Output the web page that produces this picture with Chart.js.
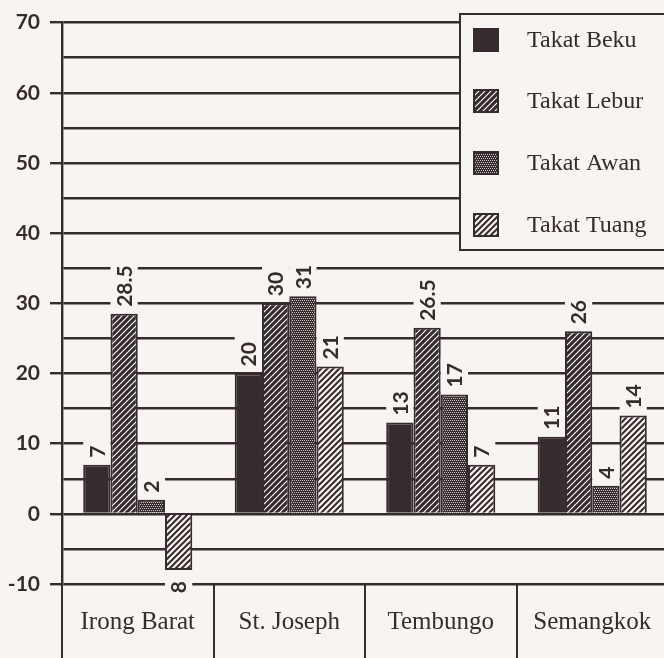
<!DOCTYPE html>
<html>
<head>
<meta charset="UTF-8">
<script src="https://cdn.jsdelivr.net/npm/chart.js"></script>
<style>
  html, body { margin: 0; padding: 0; background: #f8f4f1; overflow: hidden; }
  #wrap { width: 672px; height: 658px; }
</style>
</head>
<body>
<div id="wrap"><canvas id="c"></canvas></div>
<script>
  const categories = ['Irong Barat', 'St. Joseph', 'Tembungo', 'Semangkok'];
  const seriesNames = ['Takat Beku', 'Takat Lebur', 'Takat Awan', 'Takat Tuang'];
  const beku  = [7, 20, 13, 11];
  const lebur = [28.5, 30, 26.5, 26];
  const awan  = [2, 31, 17, 4];
  const tuang = [-8, 21, 7, 14];
  const yMin = -10, yMax = 70;

  const DARK = '#362b2e';
  const BG = '#f8f4f1';

  function makePattern(size, draw) {
    const c = document.createElement('canvas');
    c.width = size; c.height = size;
    draw(c.getContext('2d'), size);
    return c.getContext('2d').createPattern(c, 'repeat');
  }
  function diag(g, s, color, lw) {
    g.strokeStyle = color; g.lineWidth = lw;
    g.beginPath();
    for (let k = -1; k <= 1; k++) {
      g.moveTo(k * s - 1, s + 1); g.lineTo(k * s + s + 1, -1);
    }
    g.stroke();
  }
  const hatchDark = makePattern(6, (g, s) => {
    g.fillStyle = DARK; g.fillRect(0, 0, s, s);
    diag(g, s, '#ffffff', 1.1);
  });
  const stipple = makePattern(4, (g, s) => {
    g.fillStyle = DARK; g.fillRect(0, 0, s, s);
    g.fillStyle = '#cfc6c2';
    g.fillRect(0, 0, 1, 1); g.fillRect(2, 0, 1, 1);
    g.fillRect(1, 2, 1, 1); g.fillRect(3, 2, 1, 1);
  });
  const hatchLight = makePattern(6, (g, s) => {
    g.fillStyle = '#f7f3f0'; g.fillRect(0, 0, s, s);
    diag(g, s, DARK, 2.0);
  });
  const fills = [DARK, hatchDark, stipple, hatchLight];
  const values = [beku, lebur, awan, tuang];

  // rotated value labels with a paper-coloured box that cuts the grid lines
  const valueLabels = {
    id: 'valueLabels',
    afterDatasetsDraw(chart) {
      const ctx = chart.ctx;
      ctx.save();
      ctx.font = 'bold 21px Lato';
      ctx.textBaseline = 'middle';
      chart.data.datasets.forEach((ds, i) => {
        chart.getDatasetMeta(i).data.forEach((bar, j) => {
          const v = ds.data[j];
          const txt = String(Math.abs(v));
          const w = ctx.measureText(txt).width;
          const pos = v >= 0;
          const gap = pos ? 7 : 11;
          ctx.save();
          ctx.translate(bar.x, pos ? bar.y - gap : bar.y + gap);
          ctx.rotate(-Math.PI / 2);
          ctx.fillStyle = BG;
          const bw = bar.width;
          if (pos) ctx.fillRect(-4, -bw / 2, w + 10, bw);
          else ctx.fillRect(-w - 6, -bw / 2, w + 6, bw);
          ctx.fillStyle = DARK;
          ctx.textAlign = pos ? 'left' : 'right';
          ctx.fillText(txt, 0, 1);
          ctx.restore();
        });
      });
      ctx.restore();
    }
  };

  const boxLegend = {
    id: 'boxLegend',
    afterDraw(chart) {
      const ctx = chart.ctx;
      const rows = [40, 101, 163, 225];
      ctx.save();
      ctx.fillStyle = BG;
      ctx.strokeStyle = DARK;
      ctx.lineWidth = 2;
      ctx.fillRect(460, 14, 240, 236);
      ctx.strokeRect(460, 14, 240, 236);
      ctx.font = '24px "Liberation Serif"';
      ctx.textBaseline = 'middle';
      chart.data.datasets.forEach((ds, i) => {
        const y = rows[i];
        ctx.fillStyle = ds.backgroundColor;
        ctx.fillRect(474, y - 11, 24, 22);
        ctx.lineWidth = 2;
        ctx.strokeRect(474, y - 11, 24, 22);
        ctx.fillStyle = DARK;
        ctx.fillText(ds.label, 527, y + 1);
      });
      ctx.restore();
    }
  };

  new Chart(document.getElementById('c'), {
    type: 'bar',
    data: {
      labels: categories,
      datasets: seriesNames.map((name, i) => ({
        label: name,
        data: values[i],
        backgroundColor: fills[i],
        borderColor: DARK,
        borderWidth: 2,
        barPercentage: 1,
        categoryPercentage: 0.72
      }))
    },
    options: {
      responsive: true,
      maintainAspectRatio: false,
      animation: false,
      layout: { padding: { top: 15, right: 4, left: 0, bottom: 0 } },
      plugins: { legend: { display: false }, tooltip: { enabled: false } },
      scales: {
        x: {
          offset: true,
          grid: { offset: true, drawOnChartArea: false, tickLength: 74, color: DARK, lineWidth: 2 },
          border: { display: false },
          ticks: { padding: -51, color: DARK, maxRotation: 0, font: { family: 'Liberation Serif', size: 25 } },
          afterFit(s) { s.height = 74; }
        },
        y: {
          min: yMin, max: yMax,
          ticks: {
            stepSize: 5, padding: 10, color: DARK,
            font: { family: 'Lato', size: 21, weight: 'bold' },
            callback: v => (v % 10 === 0 ? v : '')
          },
          grid: {
            color: DARK, lineWidth: 2.4, tickLength: 12,
            tickColor: c => (c.tick && c.tick.value % 10 === 0 ? DARK : 'rgba(0,0,0,0)')
          },
          border: { color: DARK, width: 2.4 },
          afterFit(s) { s.width = 62; }
        }
      }
    },
    plugins: [valueLabels, boxLegend]
  });
</script>
</body>
</html>
